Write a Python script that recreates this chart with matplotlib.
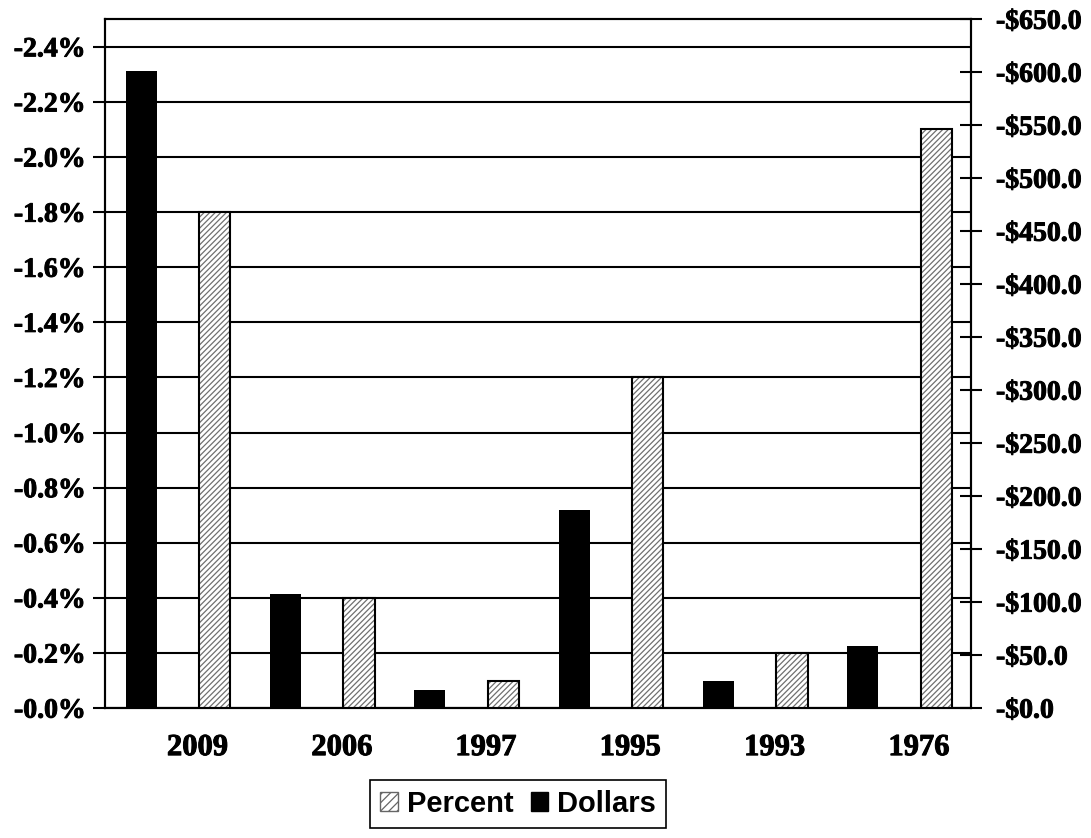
import numpy as np
import matplotlib
matplotlib.use("Agg")
import matplotlib.pyplot as plt
import matplotlib.patheffects as pe
from matplotlib.patches import Patch

# values (shown as negatives, plotted as magnitudes)
years = ["2009", "2006", "1997", "1995", "1993", "1976"]
percent = [1.8, 0.4, 0.1, 1.2, 0.2, 2.1]
dollars = [601, 108, 17, 187, 26, 59]

pct_ticks = np.arange(0, 2.41, 0.2)
usd_ticks = np.arange(0, 651, 50)

serif = ["Liberation Serif", "DejaVu Serif"]
sans = ["Liberation Sans", "DejaVu Sans"]
heavy = [pe.withStroke(linewidth=0.7, foreground="black")]

plt.rcParams["hatch.linewidth"] = 0.9

fig = plt.figure(figsize=(10.91, 8.38), dpi=100)
ax = fig.add_axes([0.0962, 0.155, 0.7938, 0.822])
ax2 = ax.twinx()

x = np.arange(len(years))
w = 0.215

# percent bars: gray hatch underneath, black outline on top
ax.bar(x + 0.26, percent, w, facecolor="white", edgecolor="#707070",
       hatch="//////", linewidth=0, zorder=3)
ax.bar(x + 0.26, percent, w, facecolor="none", edgecolor="black",
       linewidth=1.5, zorder=4)
ax2.bar(x - 0.25, dollars, w, color="black", linewidth=0, zorder=3)

ax.set_xlim(-0.5, len(years) - 0.5)
ax.set_ylim(0, 2.5)
ax2.set_ylim(0, 650)

ax.set_yticks(pct_ticks)
ax.set_yticklabels([f"-{v:.1f}%" for v in pct_ticks])
ax2.set_yticks(usd_ticks)
ax2.set_yticklabels([f"-${v:.1f}" for v in usd_ticks])

ax.set_xticks(x + 0.14)
ax.set_xticklabels(years)
ax.tick_params(axis="x", length=0, pad=18)

ax.set_axisbelow(True)
ax.yaxis.grid(True, color="black", linewidth=1.5)

ax.tick_params(axis="y", direction="out", length=9, width=1.5, pad=5)
ax2.tick_params(axis="y", direction="inout", length=16, width=1.5, pad=10)

for a in (ax, ax2):
    for s in a.spines.values():
        s.set_linewidth(1.5)
        s.set_color("black")

for lab in ax.get_yticklabels() + ax2.get_yticklabels():
    lab.set_fontfamily(serif)
    lab.set_fontweight("bold")
    lab.set_fontsize(20)
    lab.set_path_effects(heavy)
for lab in ax.get_xticklabels():
    lab.set_fontfamily(serif)
    lab.set_fontweight("bold")
    lab.set_fontsize(22)
    lab.set_path_effects(heavy)

handles = [Patch(facecolor="white", edgecolor="#666666", hatch="////", linewidth=1),
           Patch(facecolor="black", edgecolor="black")]
leg = fig.legend(handles, ["Percent", "Dollars"], loc="lower center",
                 bbox_to_anchor=(0.475, 0.012), ncol=2, frameon=True,
                 fancybox=False, edgecolor="black", framealpha=1,
                 handlelength=0.6, handleheight=0.6, handletextpad=0.3,
                 columnspacing=0.6, borderpad=0.35, borderaxespad=0,
                 prop={"family": sans, "weight": "bold", "size": 21})
leg.get_frame().set_linewidth(1.2)

fig.savefig("out.png", dpi=100)
